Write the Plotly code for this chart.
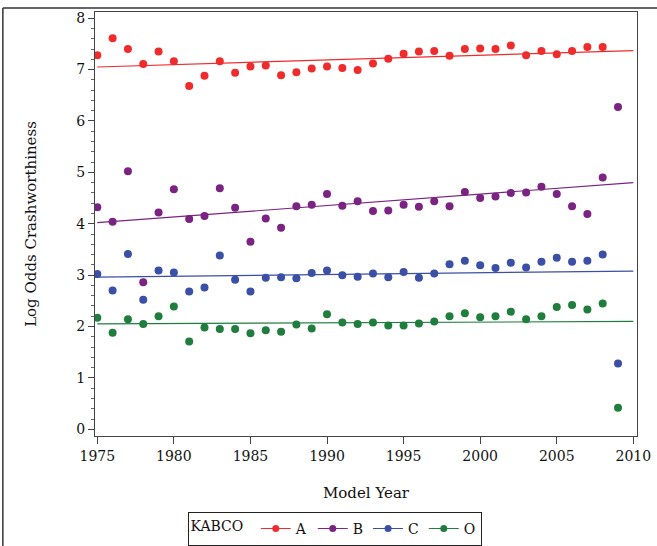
import plotly.graph_objects as go

years = list(range(1975, 2010))

series_A = [7.28, 7.61, 7.40, 7.11, 7.35, 7.16, 6.68, 6.88, 7.16, 6.94,
            7.06, 7.08, 6.89, 6.95, 7.02, 7.06, 7.03, 6.99, 7.12, 7.21,
            7.31, 7.35, 7.36, 7.27, 7.40, 7.41, 7.40, 7.47, 7.28, 7.36,
            7.30, 7.36, 7.44, 7.44, None]
series_B = [4.32, 4.04, 5.02, 2.86, 4.22, 4.67, 4.09, 4.15, 4.69, 4.31,
            3.65, 4.10, 3.92, 4.34, 4.37, 4.58, 4.35, 4.44, 4.25, 4.26,
            4.37, 4.33, 4.44, 4.34, 4.62, 4.50, 4.53, 4.60, 4.61, 4.72,
            4.58, 4.34, 4.19, 4.90, 6.27]
series_C = [3.02, 2.70, 3.41, 2.52, 3.09, 3.05, 2.68, 2.76, 3.38, 2.91,
            2.68, 2.95, 2.96, 2.94, 3.04, 3.09, 3.00, 2.97, 3.03, 2.96,
            3.06, 2.95, 3.03, 3.21, 3.28, 3.19, 3.14, 3.24, 3.15, 3.26,
            3.34, 3.26, 3.28, 3.40, 1.28]
series_O = [2.17, 1.88, 2.14, 2.05, 2.20, 2.39, 1.71, 1.98, 1.95, 1.95,
            1.87, 1.93, 1.90, 2.04, 1.96, 2.24, 2.08, 2.05, 2.08, 2.02,
            2.02, 2.06, 2.10, 2.20, 2.26, 2.18, 2.20, 2.29, 2.14, 2.20,
            2.38, 2.42, 2.33, 2.45, 0.42]

fit_years = [1975, 2010]
fit_A = [7.05, 7.37]
fit_B = [4.02, 4.80]
fit_C = [2.96, 3.08]
fit_O = [2.05, 2.10]

names = ["A", "B", "C", "O"]
colors = ["#F02B2B", "#7A2383", "#3A4FA5", "#1F7E3D"]
points = [series_A, series_B, series_C, series_O]
fits = [fit_A, fit_B, fit_C, fit_O]

x_ticks = [1975, 1980, 1985, 1990, 1995, 2000, 2005, 2010]
y_ticks = [0, 1, 2, 3, 4, 5, 6, 7, 8]

FONT = "DejaVu Serif"

fig = go.Figure()
for name, col, pts, fit in zip(names, colors, points, fits):
    fig.add_trace(go.Scatter(x=fit_years, y=fit, mode="lines",
                             line=dict(color=col, width=1.2),
                             showlegend=False, hoverinfo="skip"))
    fig.add_trace(go.Scatter(x=years, y=pts, mode="markers",
                             marker=dict(color=col, size=8),
                             name=name, showlegend=False))
    fig.add_trace(go.Scatter(x=[None], y=[None], mode="lines+markers",
                             marker=dict(color=col, size=7),
                             line=dict(color=col, width=1),
                             name=name, showlegend=True))

fig.update_layout(
    width=657, height=546,
    margin=dict(l=95, r=20, t=12, b=110, autoexpand=False),
    paper_bgcolor="white", plot_bgcolor="white",
    font=dict(family=FONT, size=14, color="#111"),
    legend=dict(orientation="h", x=0.442, xanchor="center",
                y=-0.179, yanchor="top",
                bordercolor="#222", borderwidth=1,
                title=dict(text="KABCO ", side="left", font=dict(size=14)),
                font=dict(size=14), itemwidth=30,
                tracegroupgap=0),
    xaxis=dict(range=[1974.85, 2010.24], tickvals=x_ticks,
               ticks="outside", ticklen=7, tickcolor="#444",
               showline=True, linecolor="#444", mirror=True,
               showgrid=False, zeroline=False, automargin=False,
               title=dict(text="Model Year", font=dict(size=15), standoff=24),
               tickfont=dict(size=14)),
    yaxis=dict(range=[-0.13, 8.12], tickvals=y_ticks,
               ticks="outside", ticklen=6, tickcolor="#444",
               minor=dict(dtick=0.2, ticks="outside", ticklen=3, tickcolor="#666"),
               showline=True, linecolor="#444", mirror=True,
               showgrid=False, zeroline=False, automargin=False,
               title=dict(text="Log Odds Crashworthiness", font=dict(size=15), standoff=36),
               tickfont=dict(size=14)),
    shapes=[
        dict(type="line", xref="paper", yref="paper",
             x0=-0.17, x1=1.04, y0=1.0094, y1=1.0094,
             line=dict(color="#333", width=1.5)),
        dict(type="line", xref="paper", yref="paper",
             x0=-0.17, x1=-0.17, y0=1.0094, y1=-0.27,
             line=dict(color="#333", width=1.5)),
    ],
)

fig.write_html("out.html")
